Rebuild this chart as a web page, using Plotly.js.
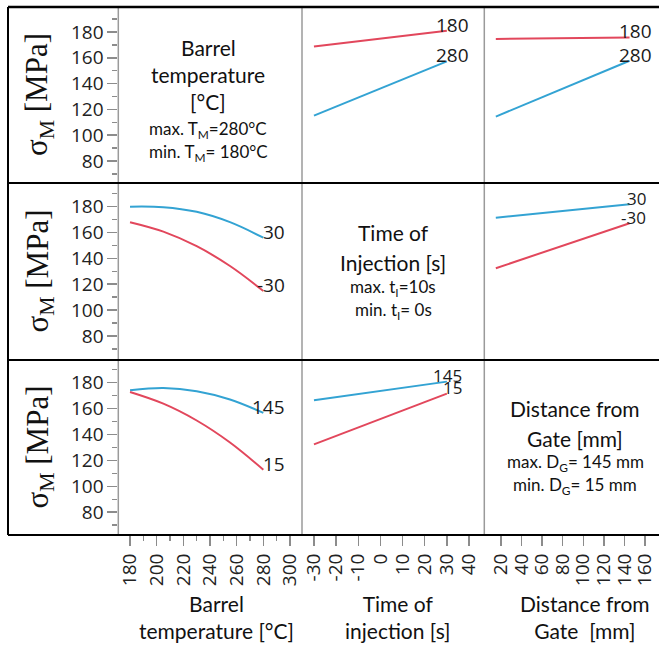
<!DOCTYPE html>
<html><head><meta charset="utf-8">
<script src="https://cdn.plot.ly/plotly-3.0.1.min.js"></script>
<style>html,body{margin:0;padding:0;background:#fff}#chart{width:659px;height:645px}</style>
</head><body><div id="chart"></div>
<script>
// ---------- data ----------
const barrelTemp = [180, 205, 230, 255, 280];
const injTime = [-30, 30];
const gateDist = [15, 145];

// Row 1: barrel temperature levels
const r1LabelA = '180', r1LabelB = '280';
const r1c2_T180 = [168.8, 181.0];
const r1c2_T280 = [115.2, 157.2];
const r1c3_T180 = [174.6, 175.8];
const r1c3_T280 = [114.4, 157.7];

// Row 2: time of injection levels
const r2LabelA = '30', r2LabelB = '-30';
const r2c1_t30  = [180.0, 179.6, 176.0, 168.0, 156.0];
const r2c1_tm30 = [168.0, 160.7, 149.4, 134.1, 114.8];
const r2c3_t30  = [171.5, 181.9];
const r2c3_tm30 = [132.4, 167.2];

// Row 3: distance from gate levels
const r3LabelA = '145', r3LabelB = '15';
const r3c1_d145 = [174.1, 175.8, 173.4, 167.0, 156.7];
const r3c1_d15  = [172.8, 163.8, 150.8, 133.8, 112.8];
const r3c2_d145 = [166.4, 180.8];
const r3c2_d15  = [132.4, 171.5];

// tick labels
const xTickVals2 = [-30, -20, -10, 0, 10, 20, 30, 40];
const xTickText2 = ['-30', '-20', '-10', '0', '10', '20', '30', '40'];

const diagTexts = [
  {big: ['Barrel', 'temperature', '[°C]'], small: ['max. T<sub>M</sub>=280°C', 'min. T<sub>M</sub>= 180°C']},
  {big: ['Time of', 'Injection [s]'], small: ['max. t<sub>I</sub>=10s', 'min. t<sub>I</sub>= 0s']},
  {big: ['Distance from', 'Gate [mm]'], small: ['max. D<sub>G</sub>= 145 mm', 'min. D<sub>G</sub>= 15 mm']}
];
const xTitles = ['Barrel<br>temperature [°C]', 'Time of<br>injection [s]', 'Distance from<br>Gate\u00a0 [mm]'];
const yTitle = 'σ<sub>M</sub> [MPa]';

// ---------- layout helpers ----------
const W = 659, H = 645;
const px = v => v / W;
const py = v => 1 - v / H;
const RED = '#e2475c', BLUE = '#33a3d3';
const TICKC = '#8c8c8c';
const SANS = 'Open Sans, Noto Sans, sans-serif';
const LATO = 'Lato, Open Sans, sans-serif';

const colEdges = [118.3, 302, 484.3, 659];
const rowEdges = [7, 183, 360, 535];

const series = [
  {x: injTime, y: r1c2_T180, xa: 'x2', ya: 'y', c: RED, lab: r1LabelA},
  {x: injTime, y: r1c2_T280, xa: 'x2', ya: 'y', c: BLUE, lab: r1LabelB},
  {x: gateDist, y: r1c3_T180, xa: 'x3', ya: 'y', c: RED, lab: r1LabelA},
  {x: gateDist, y: r1c3_T280, xa: 'x3', ya: 'y', c: BLUE, lab: r1LabelB},
  {x: barrelTemp, y: r2c1_t30, xa: 'x', ya: 'y2', c: BLUE, lab: r2LabelA},
  {x: barrelTemp, y: r2c1_tm30, xa: 'x', ya: 'y2', c: RED, lab: r2LabelB},
  {x: gateDist, y: r2c3_t30, xa: 'x3', ya: 'y2', c: BLUE, lab: r2LabelA, fs: 17, xs: 18},
  {x: gateDist, y: r2c3_tm30, xa: 'x3', ya: 'y2', c: RED, lab: r2LabelB, fs: 17, xs: 18},
  {x: barrelTemp, y: r3c1_d145, xa: 'x', ya: 'y3', c: BLUE, lab: r3LabelA},
  {x: barrelTemp, y: r3c1_d15, xa: 'x', ya: 'y3', c: RED, lab: r3LabelB},
  {x: injTime, y: r3c2_d145, xa: 'x2', ya: 'y3', c: BLUE, lab: r3LabelA, fs: 17, xs: 17},
  {x: injTime, y: r3c2_d15, xa: 'x2', ya: 'y3', c: RED, lab: r3LabelB, fs: 17, xs: 17}
];

const traces = series.map(s => ({
  type: 'scatter', mode: 'lines', x: s.x, y: s.y, xaxis: s.xa, yaxis: s.ya,
  line: {color: s.c, width: 2, shape: 'spline', smoothing: 1},
  hoverinfo: 'skip', showlegend: false
}));

const annotations = [];
series.forEach(s => {
  annotations.push({
    xref: s.xa, yref: s.ya, x: s.x[s.x.length - 1], y: s.y[s.y.length - 1],
    text: s.lab, showarrow: false, xanchor: 'right', yanchor: 'middle',
    xshift: s.xs || 24, yshift: 6, font: {family: SANS, size: s.fs || 19, color: '#1a1a1a'}
  });
});

// y axis titles
for (let r = 0; r < 3; r++) {
  annotations.push({
    xref: 'paper', yref: 'paper', x: px(39), y: py((rowEdges[r] + rowEdges[r + 1]) / 2),
    text: yTitle, textangle: -90, showarrow: false, xanchor: 'center', yanchor: 'middle',
    font: {family: 'Liberation Serif, Times New Roman, serif', size: 31, color: '#111'}
  });
}

// diagonal texts
const diagCenters = [208, 393, 575];
const bigY = [[47, 75, 102], [232, 262], [409, 438]];
const smallY = [[130, 153], [288, 311], [463, 486]];
diagTexts.forEach((d, i) => {
  d.big.forEach((t, j) => annotations.push({
    xref: 'paper', yref: 'paper', x: px(diagCenters[i]), y: py(bigY[i][j]), text: t,
    showarrow: false, xanchor: 'center', yanchor: 'middle',
    font: {family: LATO, size: 21, color: '#111'}
  }));
  d.small.forEach((t, j) => annotations.push({
    xref: 'paper', yref: 'paper', x: px(diagCenters[i]), y: py(smallY[i][j]), text: t,
    showarrow: false, xanchor: 'center', yanchor: 'middle',
    font: {family: LATO, size: 17, color: '#111'}
  }));
});

// x titles
const xTitleCenters = [216, 398, 585];
xTitles.forEach((t, i) => annotations.push({
  xref: 'paper', yref: 'paper', x: px(xTitleCenters[i]), y: py(617), text: t,
  showarrow: false, xanchor: 'center', yanchor: 'middle',
  font: {family: LATO, size: 21, color: '#111'}
}));

// frame shapes
const shapes = [];
const hline = (y, w) => shapes.push({type: 'line', xref: 'paper', yref: 'paper', x0: px(8), x1: 1, y0: py(y), y1: py(y), line: {color: '#000', width: w}});
hline(7, 2.5); hline(183, 2); hline(360, 2); hline(535, 2);
shapes.push({type: 'line', xref: 'paper', yref: 'paper', x0: px(8), x1: px(8), y0: py(7), y1: py(535), line: {color: '#000', width: 2}});
colEdges.slice(0, 3).forEach(x => shapes.push({type: 'line', xref: 'paper', yref: 'paper', x0: px(x), x1: px(x), y0: py(7), y1: py(535), line: {color: '#9a9a9a', width: 1.5}, layer: 'below'}));

const tickFont = {family: SANS, size: 19, color: '#222'};
const baseX = {
  showgrid: false, zeroline: false, showline: false, ticks: 'outside', ticklen: 10, tickwidth: 1.5,
  tickcolor: TICKC, tickangle: -90, tickfont: tickFont, anchor: 'y3', fixedrange: true
};
const baseY = {
  showgrid: false, zeroline: false, showline: false, ticks: 'outside', ticklen: 10, tickwidth: 1.5,
  tickcolor: TICKC, tickfont: tickFont, anchor: 'x', tickmode: 'linear', tick0: 0, dtick: 20,
  minor: {ticks: 'outside', dtick: 10, tick0: 0, ticklen: 5, tickwidth: 1.5, tickcolor: TICKC, showgrid: false},
  fixedrange: true
};

const layout = {
  width: W, height: H, margin: {l: 0, r: 0, t: 0, b: 0},
  paper_bgcolor: '#fff', plot_bgcolor: 'rgba(0,0,0,0)', showlegend: false,
  xaxis: Object.assign({}, baseX, {domain: [px(colEdges[0]), px(colEdges[1])], range: [171.2, 309],
    tickmode: 'linear', tick0: 0, dtick: 20,
    minor: {ticks: 'outside', dtick: 10, tick0: 0, ticklen: 5, tickwidth: 1.5, tickcolor: TICKC, showgrid: false}}),
  xaxis2: Object.assign({}, baseX, {domain: [px(colEdges[1]), px(colEdges[2])], range: [-35.4, 46.9],
    tickmode: 'array', tickvals: xTickVals2, ticktext: xTickText2}),
  xaxis3: Object.assign({}, baseX, {domain: [px(colEdges[2]), 1], range: [3.8, 173.6],
    tickmode: 'linear', tick0: 0, dtick: 20}),
  yaxis: Object.assign({}, baseY, {domain: [py(rowEdges[1]), py(rowEdges[0])], range: [62.9, 199.4]}),
  yaxis2: Object.assign({}, baseY, {domain: [py(rowEdges[2]), py(rowEdges[1])], range: [61.4, 198.3]}),
  yaxis3: Object.assign({}, baseY, {domain: [py(rowEdges[3]), py(rowEdges[2])], range: [62.4, 197.5]}),
  shapes: shapes, annotations: annotations
};

Plotly.newPlot('chart', traces, layout, {staticPlot: true, displayModeBar: false});
</script></body></html>
